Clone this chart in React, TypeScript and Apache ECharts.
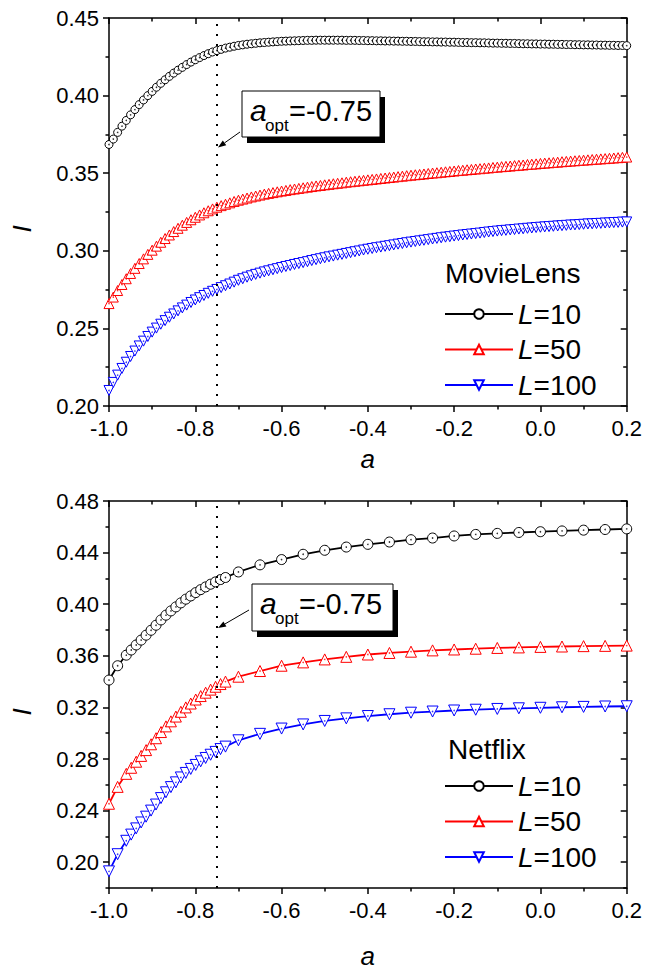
import React, { useEffect, useRef } from "react";
import * as echarts from "echarts";

// ---------------- data ----------------
const topA = [-1.00,-0.99,-0.98,-0.97,-0.96,-0.95,-0.94,-0.93,-0.92,-0.91,-0.90,-0.89,-0.88,-0.87,-0.86,-0.85,-0.84,-0.83,-0.82,-0.81,-0.80,-0.79,-0.78,-0.77,-0.76,-0.75,-0.74,-0.73,-0.72,-0.71,-0.70,-0.69,-0.68,-0.67,-0.66,-0.65,-0.64,-0.63,-0.62,-0.61,-0.60,-0.59,-0.58,-0.57,-0.56,-0.55,-0.54,-0.53,-0.52,-0.51,-0.50,-0.49,-0.48,-0.47,-0.46,-0.45,-0.44,-0.43,-0.42,-0.41,-0.40,-0.39,-0.38,-0.37,-0.36,-0.35,-0.34,-0.33,-0.32,-0.31,-0.30,-0.29,-0.28,-0.27,-0.26,-0.25,-0.24,-0.23,-0.22,-0.21,-0.20,-0.19,-0.18,-0.17,-0.16,-0.15,-0.14,-0.13,-0.12,-0.11,-0.10,-0.09,-0.08,-0.07,-0.06,-0.05,-0.04,-0.03,-0.02,-0.01,0.00,0.01,0.02,0.03,0.04,0.05,0.06,0.07,0.08,0.09,0.10,0.11,0.12,0.13,0.14,0.15,0.16,0.17,0.18,0.19,0.20];

const topL10 = [
0.3685,0.3720,0.3763,0.3803,0.3840,0.3876,0.3910,0.3942,0.3972,0.4000,
0.4027,0.4054,0.4079,0.4102,0.4124,0.4145,0.4164,0.4182,0.4200,0.4216,
0.4231,0.4245,0.4258,0.4270,0.4281,0.4290,0.4298,0.4306,0.4312,0.4318,
0.4323,0.4327,0.4331,0.4334,0.4337,0.4340,0.4342,0.4344,0.4346,0.4348,
0.4350,0.4351,0.4352,0.4353,0.4354,0.4355,0.4356,0.4356,0.4357,0.4357,
0.4357,0.4357,0.4357,0.4357,0.4357,0.4356,0.4356,0.4356,0.4355,0.4355,
0.4354,0.4354,0.4353,0.4353,0.4352,0.4352,0.4351,0.4351,0.4350,0.4350,
0.4349,0.4349,0.4348,0.4347,0.4347,0.4346,0.4346,0.4345,0.4345,0.4344,
0.4344,0.4343,0.4342,0.4342,0.4341,0.4341,0.4340,0.4340,0.4339,0.4338,
0.4338,0.4337,0.4337,0.4336,0.4336,0.4335,0.4334,0.4334,0.4333,0.4333,
0.4332,0.4332,0.4331,0.4331,0.4330,0.4330,0.4329,0.4329,0.4328,0.4328,
0.4327,0.4327,0.4326,0.4326,0.4325,0.4325,0.4324,0.4324,0.4323,0.4323,
0.4322];

const topL50 = [
0.2660,0.2702,0.2744,0.2783,0.2820,0.2854,0.2887,0.2918,0.2948,0.2977,
0.3004,0.3030,0.3055,0.3079,0.3102,0.3124,0.3145,0.3165,0.3183,0.3200,
0.3216,0.3231,0.3245,0.3258,0.3270,0.3281,0.3291,0.3300,0.3309,0.3318,
0.3326,0.3333,0.3340,0.3347,0.3353,0.3359,0.3365,0.3370,0.3375,0.3380,
0.3385,0.3389,0.3394,0.3398,0.3402,0.3406,0.3410,0.3414,0.3418,0.3421,
0.3425,0.3428,0.3432,0.3435,0.3438,0.3442,0.3445,0.3448,0.3451,0.3454,
0.3457,0.3460,0.3463,0.3466,0.3469,0.3472,0.3475,0.3478,0.3481,0.3484,
0.3487,0.3490,0.3492,0.3495,0.3498,0.3501,0.3503,0.3506,0.3509,0.3511,
0.3514,0.3517,0.3519,0.3522,0.3524,0.3527,0.3529,0.3532,0.3534,0.3537,
0.3539,0.3542,0.3544,0.3546,0.3549,0.3551,0.3553,0.3556,0.3558,0.3560,
0.3563,0.3565,0.3567,0.3569,0.3571,0.3574,0.3576,0.3578,0.3580,0.3582,
0.3584,0.3586,0.3588,0.3590,0.3592,0.3594,0.3596,0.3598,0.3600,0.3602,
0.3604];

const topL100 = [
0.2100,0.2152,0.2199,0.2242,0.2282,0.2319,0.2354,0.2387,0.2418,0.2448,
0.2476,0.2502,0.2527,0.2550,0.2572,0.2593,0.2613,0.2632,0.2650,0.2667,
0.2683,0.2698,0.2712,0.2726,0.2739,0.2751,0.2763,0.2775,0.2786,0.2798,
0.2810,0.2820,0.2830,0.2839,0.2848,0.2856,0.2864,0.2871,0.2878,0.2885,
0.2892,0.2899,0.2905,0.2912,0.2918,0.2924,0.2930,0.2937,0.2943,0.2949,
0.2955,0.2961,0.2966,0.2972,0.2977,0.2983,0.2988,0.2994,0.2999,0.3005,
0.3010,0.3015,0.3020,0.3024,0.3029,0.3033,0.3038,0.3043,0.3047,0.3052,
0.3056,0.3060,0.3064,0.3068,0.3072,0.3076,0.3080,0.3084,0.3088,0.3091,
0.3095,0.3098,0.3102,0.3105,0.3108,0.3111,0.3114,0.3118,0.3121,0.3124,
0.3127,0.3130,0.3132,0.3135,0.3137,0.3140,0.3142,0.3145,0.3147,0.3150,
0.3152,0.3154,0.3156,0.3158,0.3160,0.3162,0.3164,0.3166,0.3167,0.3169,
0.3171,0.3173,0.3174,0.3176,0.3177,0.3179,0.3180,0.3182,0.3183,0.3185,
0.3186];

const botA = [-1.0,-0.98,-0.96,-0.9485,-0.937,-0.9255,-0.914,-0.9025,-0.891,-0.8795,-0.868,-0.8565,-0.845,-0.8335,-0.822,-0.8105,-0.799,-0.7875,-0.776,-0.7645,-0.753,-0.7415,-0.73,
-0.70,-0.65,-0.60,-0.55,-0.50,-0.45,-0.40,-0.35,-0.30,-0.25,-0.20,-0.15,-0.10,-0.05,0.00,0.05,0.10,0.15,0.20];

const botL10 = [0.3412,0.3523,0.3605,0.3645,0.3684,0.3722,0.3760,0.3798,0.3837,0.3878,0.3915,0.3948,0.3979,0.4010,0.4039,0.4064,0.4090,0.4113,0.4134,0.4155,0.4173,0.4191,0.4207,
0.4250,0.4305,0.4346,0.4387,0.4418,0.4443,0.4464,0.4482,0.4500,0.4513,0.4529,0.4541,0.4549,0.4556,0.4562,0.4568,0.4574,0.4579,0.4584];

const botL50 = [0.2453,0.2584,0.2685,0.2732,0.2779,0.2824,0.2869,0.2914,0.2961,0.3009,0.3053,0.3092,0.3129,0.3166,0.3200,0.3230,0.3261,0.3288,0.3314,0.3338,0.3360,0.3381,0.3400,
0.3438,0.3482,0.3523,0.3549,0.3572,0.3592,0.3610,0.3622,0.3632,0.3642,0.3649,0.3655,0.3661,0.3665,0.3669,0.3672,0.3675,0.3677,0.3679];

const botL100 = [0.1929,0.2062,0.2166,0.2214,0.2262,0.2308,0.2353,0.2400,0.2447,0.2497,0.2542,0.2582,0.2619,0.2657,0.2692,0.2723,0.2754,0.2782,0.2808,0.2833,0.2855,0.2877,0.2896,
0.2945,0.2995,0.3036,0.3068,0.3095,0.3115,0.3133,0.3147,0.3159,0.3168,0.3176,0.3182,0.3188,0.3193,0.3197,0.3201,0.3204,0.3207,0.3209];

const legendLabels = ["L=10", "L=50", "L=100"];
const datasetNames = ["MovieLens", "Netflix"];
const aOpt = -0.75;
const aOptLabel = "=-0.75";
const xAxisTitle = "a";
const yAxisTitle = "I";
const botYTicks = [0.20, 0.24, 0.28, 0.32, 0.36, 0.40, 0.44, 0.48];
const botYMinorTicks = [0.18, 0.22, 0.26, 0.30, 0.34, 0.38, 0.42, 0.46];

// ---------------- styling ----------------
const FONT = "'Liberation Sans', Arial, Helvetica, sans-serif";
const BLACK = "#000000";
const COLORS = ["#000000", "#ff0000", "#0000ff"];
const SYMBOLS = ["circle", "triangle", "triangle"];
const ROTATES = [0, 0, 180];

const zip = (xs: number[], ys: number[]) => xs.map((x, i) => [x, ys[i]]);
const fmt1 = (v: number) => (Math.abs(v) < 1e-9 ? "0.0" : v.toFixed(1));
const fmt2 = (v: number) => v.toFixed(2);

function buildOption() {
  const grids = [
    { left: 109, top: 18, width: 520, height: 388 },
    { left: 109, top: 501, width: 520, height: 387 },
  ];
  const line = { show: true, onZero: false, lineStyle: { color: BLACK, width: 1.5 } };
  const noLine = { show: false, onZero: false };
  const tickLS = { color: BLACK, width: 1.5 };
  const labelBase = { color: BLACK, fontSize: 22, fontFamily: FONT };

  const xAxis: any[] = [];
  [40, 55].forEach((nameGap, g) => {
    const common = {
      type: "value", gridIndex: g, min: -1, max: 0.2, interval: 0.2,
      splitLine: { show: false }, minorSplitLine: { show: false },
      axisLine: line,
      minorTick: { show: true, splitNumber: 2, length: 3.5, lineStyle: tickLS },
    };
    xAxis.push({
      ...common, position: "bottom",
      axisTick: { show: true, inside: false, length: 6, lineStyle: tickLS },
      axisLabel: { ...labelBase, margin: 11, showMinLabel: true, showMaxLabel: true, formatter: fmt1 },
      name: xAxisTitle, nameLocation: "middle", nameGap,
      nameTextStyle: { fontStyle: "italic", fontSize: 26, fontFamily: FONT, color: BLACK },
    });
    xAxis.push({
      ...common, position: "top",
      axisTick: { show: true, inside: true, length: 6, lineStyle: tickLS },
      axisLabel: { show: false },
    });
  });

  const yAxis: any[] = [];
  const yc0 = {
    type: "value", gridIndex: 0, min: 0.2, max: 0.45, interval: 0.05,
    splitLine: { show: false }, minorSplitLine: { show: false }, axisLine: line,
    minorTick: { show: true, splitNumber: 2, length: 3.5, lineStyle: tickLS },
  };
  yAxis.push({
    ...yc0, position: "left",
    axisTick: { show: true, inside: false, length: 6, lineStyle: tickLS },
    axisLabel: { ...labelBase, margin: 10, showMinLabel: true, showMaxLabel: true, formatter: fmt2 },
  });
  yAxis.push({
    ...yc0, position: "right",
    axisTick: { show: true, inside: true, length: 6, lineStyle: tickLS },
    axisLabel: { show: false },
  });
  const yc1 = {
    type: "value", gridIndex: 1, min: 0.18, max: 0.48,
    splitLine: { show: false }, minorSplitLine: { show: false },
  };
  yAxis.push({
    ...yc1, position: "left", axisLine: line,
    axisTick: { show: true, inside: false, length: 6, lineStyle: tickLS, customValues: botYTicks },
    axisLabel: { ...labelBase, margin: 10, customValues: botYTicks, formatter: fmt2 },
  });
  yAxis.push({
    ...yc1, position: "right", axisLine: line,
    axisTick: { show: true, inside: true, length: 6, lineStyle: tickLS, customValues: botYTicks },
    axisLabel: { show: false },
  });
  yAxis.push({
    ...yc1, position: "left", axisLine: noLine,
    axisTick: { show: true, inside: false, length: 3.5, lineStyle: tickLS, customValues: botYMinorTicks },
    axisLabel: { show: false },
  });
  yAxis.push({
    ...yc1, position: "right", axisLine: noLine,
    axisTick: { show: true, inside: true, length: 3.5, lineStyle: tickLS, customValues: botYMinorTicks },
    axisLabel: { show: false },
  });

  const panels = [
    { xs: topA, ys: [topL10, topL50, topL100], xi: 0, yi: 0, sizes: [8, 10, 10], lw: 1 },
    { xs: botA, ys: [botL10, botL50, botL100], xi: 2, yi: 2, sizes: [10, 11, 11], lw: 1.8 },
  ];
  const series: any[] = [];
  panels.forEach((p, pi) => {
    p.ys.forEach((ys, si) => {
      const s: any = {
        type: "line",
        name: `${datasetNames[pi]} ${legendLabels[si]}`,
        xAxisIndex: p.xi, yAxisIndex: p.yi,
        data: zip(p.xs, ys),
        symbol: SYMBOLS[si], symbolRotate: ROTATES[si], symbolSize: p.sizes[si],
        showAllSymbol: true,
        itemStyle: { color: "#ffffff", borderColor: COLORS[si], borderWidth: 1 },
        lineStyle: { color: COLORS[si], width: p.lw },
        z: 3,
      };
      if (si === 0) {
        s.markLine = {
          silent: true, symbol: "none", label: { show: false },
          lineStyle: { color: BLACK, type: [2, 8], width: 2 },
          data: [{ xAxis: aOpt }],
        };
      }
      series.push(s);
      series.push({
        type: "scatter", name: `dot-${pi}-${si}`,
        xAxisIndex: p.xi, yAxisIndex: p.yi, silent: true,
        data: zip(p.xs, ys), symbol: "circle", symbolSize: 1.6,
        itemStyle: { color: COLORS[si] }, z: 4,
      });
    });
  });

  const legendFormatter = (name: string) => `{i|L}{n|=${name.split("=")[1]}}`;
  const legendRich = {
    i: { fontStyle: "italic", fontSize: 28, fontFamily: FONT, color: BLACK },
    n: { fontSize: 28, fontFamily: FONT, color: BLACK },
  };
  const legend = [{ top: 300 }, { top: 772 }].map((pos, pi) => ({
    data: legendLabels.map((l) => `${datasetNames[pi]} ${l}`),
    orient: "vertical", left: 444, top: pos.top, padding: 0,
    itemWidth: 68, itemHeight: 12, itemGap: 7.5,
    selectedMode: false, formatter: legendFormatter,
    textStyle: { rich: legendRich },
    lineStyle: { width: 2 },
  }));

  const txt = (x: number, y: number, text: string, font: string, align = "left") => ({
    type: "text", x, y, z: 200,
    style: { text, font, fill: BLACK, textAlign: align, textVerticalAlign: "middle", align, verticalAlign: "middle" },
  });

  const graphic: any[] = [];
  graphic.push(txt(445, 273, datasetNames[0], `28px ${FONT}`));
  graphic.push(txt(448, 749, datasetNames[1], `28px ${FONT}`));
  // y-axis titles (rotated)
  [229, 712].forEach((cy) => {
    graphic.push({ ...txt(22, cy, yAxisTitle, `italic 26px ${FONT}`, "center"), rotation: Math.PI / 2 });
  });

  const anns = [
    { bx: 242, by: 91, bw: 138, bh: 46, from: [240, 132], to: [218, 147.5] },
    { bx: 252, by: 584, bw: 141, bh: 47, from: [249, 610], to: [218, 628] },
  ];
  anns.forEach((a) => {
    graphic.push({ type: "rect", z: 200, shape: { x: a.bx + 5, y: a.by + 6, width: a.bw, height: a.bh }, style: { fill: BLACK } });
    graphic.push({ type: "rect", z: 201, shape: { x: a.bx, y: a.by, width: a.bw, height: a.bh }, style: { fill: "#ffffff", stroke: BLACK, lineWidth: 1 } });
    const base = a.by + 30;
    graphic.push({ ...txt(a.bx + 8, base - 10.5, "a", `italic 30px ${FONT}`), z: 202 });
    graphic.push({ ...txt(a.bx + 23, a.by + 40 - 6, "opt", `17px ${FONT}`), z: 202 });
    graphic.push({ ...txt(a.bx + 47, base - 10, aOptLabel, `29px ${FONT}`), z: 202 });
    const [x1, y1] = a.from;
    const [x2, y2] = a.to;
    const dx = x2 - x1, dy = y2 - y1;
    const len = Math.sqrt(dx * dx + dy * dy);
    const ux = dx / len, uy = dy / len;
    const hl = 8, hw = 3;
    const bxp = x2 - ux * hl, byp = y2 - uy * hl;
    graphic.push({ type: "line", z: 200, shape: { x1, y1, x2: bxp, y2: byp }, style: { stroke: BLACK, lineWidth: 1 } });
    graphic.push({
      type: "polygon", z: 200,
      shape: { points: [[x2, y2], [bxp - uy * hw, byp + ux * hw], [bxp + uy * hw, byp - ux * hw]] },
      style: { fill: BLACK },
    });
  });

  return {
    animation: false,
    backgroundColor: "#ffffff",
    grid: grids,
    xAxis, yAxis, series, legend, graphic,
  };
}

export default function App() {
  const ref = useRef<HTMLDivElement>(null);
  useEffect(() => {
    if (!ref.current) return;
    const chart = echarts.init(ref.current, null, { renderer: "svg" });
    chart.setOption(buildOption() as any);
    return () => chart.dispose();
  }, []);
  return (
    <div
      ref={ref}
      style={{ position: "absolute", left: 0, top: 0, width: 645, height: 972, background: "#fff" }}
    />
  );
}
